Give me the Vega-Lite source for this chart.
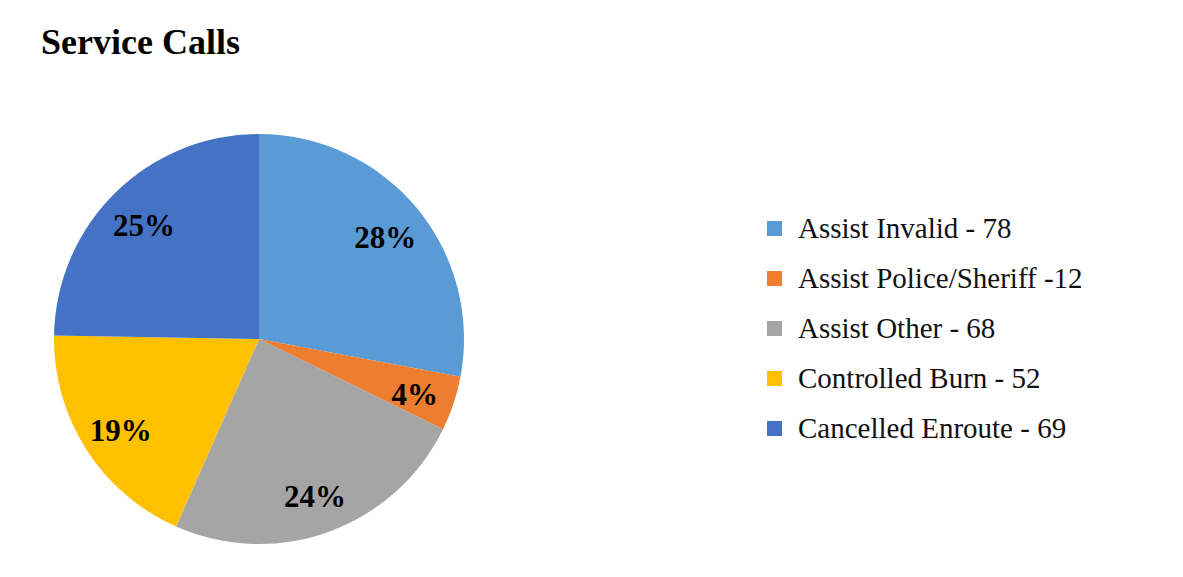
{
  "$schema": "https://vega.github.io/schema/vega-lite/v6.json",
  "width": 410,
  "height": 410,
  "autosize": {"type": "none"},
  "padding": {"left": 54, "top": 134, "right": 719, "bottom": 33},
  "background": "white",
  "title": {
    "text": "Service Calls",
    "anchor": "start",
    "frame": "group",
    "font": "Liberation Serif",
    "fontSize": 36,
    "fontWeight": "bold",
    "color": "black",
    "dx": -13,
    "offset": 72
  },
  "data": {
    "values": [
      {"i": 1, "category": "Assist Invalid - 78", "calls": 78},
      {"i": 2, "category": "Assist Police/Sheriff -12", "calls": 12},
      {"i": 3, "category": "Assist Other - 68", "calls": 68},
      {"i": 4, "category": "Controlled Burn - 52", "calls": 52},
      {"i": 5, "category": "Cancelled Enroute - 69", "calls": 69}
    ]
  },
  "transform": [
    {"joinaggregate": [{"op": "sum", "field": "calls", "as": "total"}]},
    {"calculate": "format(datum.calls / datum.total, '.0%')", "as": "pct"}
  ],
  "encoding": {
    "theta": {"field": "calls", "type": "quantitative", "stack": true},
    "order": {"field": "i", "type": "quantitative"},
    "color": {
      "field": "category",
      "type": "nominal",
      "sort": ["Assist Invalid - 78", "Assist Police/Sheriff -12", "Assist Other - 68", "Controlled Burn - 52", "Cancelled Enroute - 69"],
      "scale": {
        "domain": ["Assist Invalid - 78", "Assist Police/Sheriff -12", "Assist Other - 68", "Controlled Burn - 52", "Cancelled Enroute - 69"],
        "range": ["#5B9BD5", "#ED7D31", "#A5A5A5", "#FFC000", "#4472C4"]
      },
      "legend": {
        "title": null,
        "orient": "none",
        "legendX": 706,
        "legendY": 80,
        "padding": 0,
        "symbolType": "square",
        "symbolSize": 225,
        "symbolStrokeWidth": 0,
        "labelFont": "Liberation Serif",
        "labelFontSize": 29,
        "labelColor": "#111111",
        "labelLimit": 400,
        "labelOffset": 9,
        "rowPadding": 20
      }
    }
  },
  "layer": [
    {"mark": {"type": "arc", "outerRadius": 205}},
    {
      "mark": {"type": "text", "radius": 164, "dy": 5, "font": "Liberation Serif", "fontSize": 31, "fontWeight": "bold"},
      "encoding": {
        "text": {"field": "pct", "type": "nominal"},
        "color": {"value": "black"}
      }
    }
  ],
  "config": {"view": {"stroke": null}}
}
